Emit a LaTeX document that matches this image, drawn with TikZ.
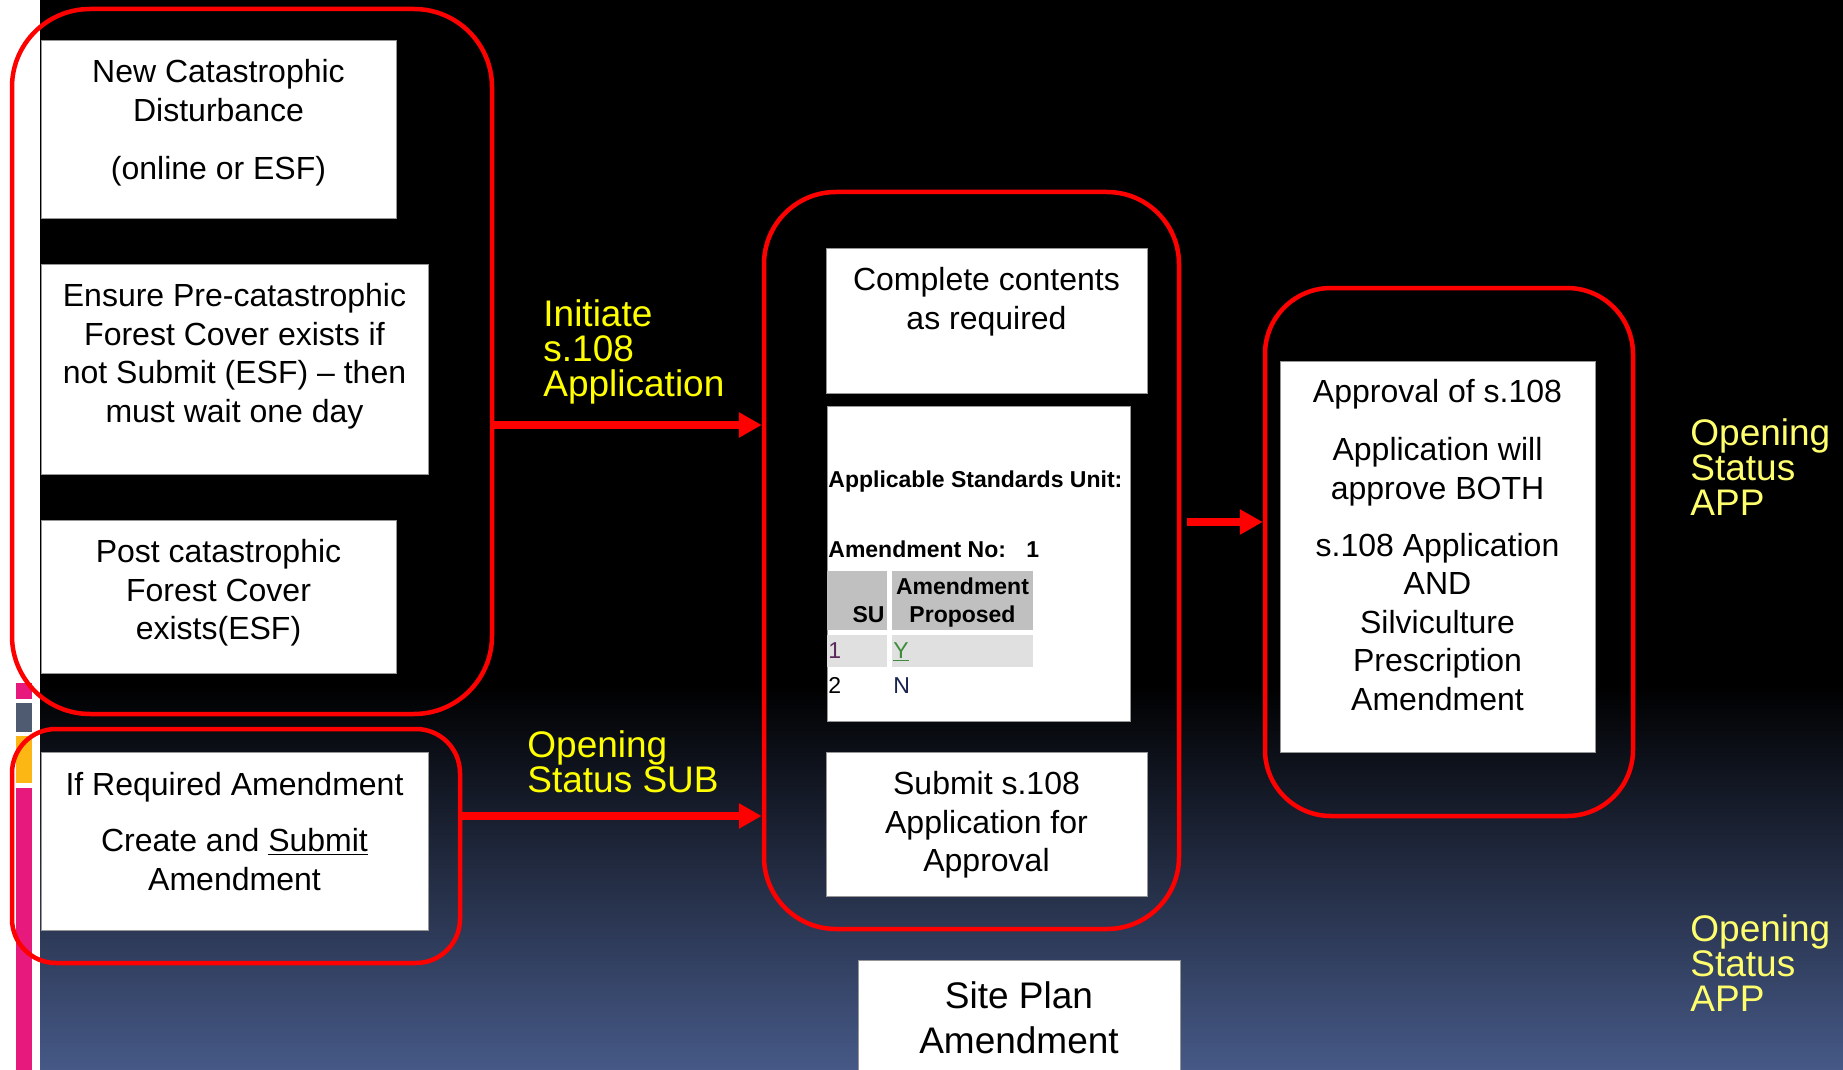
\documentclass[tikz,border=0pt]{standalone}
\usepackage{fontspec}
\setmainfont{Liberation Sans}
\usetikzlibrary{arrows.meta,fit}
\definecolor{bgblue}{RGB}{70,89,135}
\definecolor{lyellow}{RGB}{255,255,0}
\definecolor{ryellow}{RGB}{255,255,110}
\definecolor{stripink}{RGB}{232,25,125}
\definecolor{stripgray}{RGB}{78,91,112}
\definecolor{stripgold}{RGB}{253,183,20}
\definecolor{cellhead}{RGB}{192,192,192}
\definecolor{cellrow}{RGB}{224,224,224}
\definecolor{purpone}{RGB}{90,40,90}
\definecolor{greenone}{RGB}{60,140,60}
\definecolor{navyone}{RGB}{25,35,80}
\definecolor{boxedge}{RGB}{150,150,150}
\begin{document}
\begin{tikzpicture}[x=0.5pt,y=-0.5pt,
  grp/.style={draw=red, line width=2.25pt, inner sep=0pt, rounded corners=#1},
  wbox/.style={draw=boxedge, line width=0.4pt, fill=white, inner sep=0pt},
  cell/.style={inner sep=0pt, fill=#1},
  btext/.style={font=\fontsize{16}{19.25}\selectfont, align=center, inner sep=0pt, anchor=north, text=black},
  bigtext/.style={font=\fontsize{18.5}{22.5}\selectfont, align=center, inner sep=0pt, anchor=north, text=black},
  ylab/.style={font=\fontsize{18.5}{17.5}\selectfont, align=left, inner sep=0pt, anchor=north west, text=#1},
  tabb/.style={font=\fontsize{11.5}{13}\selectfont\bfseries, inner sep=0pt, text=black},
  tabr/.style={font=\fontsize{11.5}{13}\selectfont, inner sep=0pt, text=black},
  arr/.style={draw=red, line width=4pt, -{Triangle[length=11.5pt,width=12pt]}}
]
\useasboundingbox (0,0) rectangle (1843,1070);
% background
\fill[white] (0,0) rectangle (1843,1070);
\fill[black] (40,0) rectangle (1843,687);
\shade[top color=black, bottom color=bgblue] (40,685) rectangle (1843,1070);
% left strip bars
\fill[stripink] (16,683) rectangle (32,699);
\fill[stripgray] (16,703) rectangle (32,732);
\fill[stripgold] (16,736) rectangle (32,783);
\fill[stripink] (16,788) rectangle (32,1070);

% white boxes
\node[wbox, fit={(41,40) (396,218)}] (b1) {};
\node[wbox, fit={(41,264) (428,474)}] (b2) {};
\node[wbox, fit={(41,520) (396,673)}] (b3) {};
\node[wbox, fit={(41,752) (428,930)}] (b4) {};
\node[wbox, fit={(826,248) (1147,393)}] (b5) {};
\node[wbox, fit={(827,406) (1130,721)}] (b6) {};
\node[wbox, fit={(826,752) (1147,896)}] (b7) {};
\node[wbox, fit={(1280,361) (1595,752)}] (b8) {};
\node[wbox, fit={(858,960) (1180,1072)}] (b9) {};

% group outlines
\node[grp=39pt, fit={(12,9) (492,714)}] (g1) {};
\node[grp=22pt, fit={(12,729) (460,963)}] (g2) {};
\node[grp=36pt, fit={(764,192) (1179,929)}] (g3) {};
\node[grp=33pt, fit={(1265,288) (1633,816)}] (g4) {};

% arrows
\coordinate (a1) at (0,425);
\coordinate (a2) at (0,816);
\coordinate (a3) at (0,522);
\draw[arr] (g1.east |- a1) -- (g3.west |- a1);
\draw[arr] (g2.east |- a2) -- (g3.west |- a2);
\draw[arr, shorten <=3pt] (g3.east |- a3) -- (g4.west |- a3);

% box texts
\node[btext] (t1) at (218.5,59) {New Catastrophic\\Disturbance\\[9.75pt](online or ESF)};
\node[btext] (t2) at (234.5,283) {Ensure Pre-catastrophic\\Forest Cover exists if\\not Submit (ESF) – then\\must wait one day};
\node[btext] (t3) at (218.5,539) {Post catastrophic\\Forest Cover\\exists(ESF)};
\node[btext] (t4) at (234.5,772) {If Required Amendment\\[8.75pt]Create and \underline{Submit}\\Amendment};
\node[btext] (t5) at (986.5,267) {Complete contents\\as required};
\node[btext] (t7) at (986.5,771) {Submit s.108\\Application for\\Approval};
\node[btext] (t8) at (1437.5,379) {Approval of s.108\\[9.75pt]Application will\\approve BOTH\\[9.25pt]s.108 Application\\AND\\Silviculture\\Prescription\\Amendment};
\node[bigtext] (t9) at (1019,981) {Site Plan\\Amendment};

% yellow labels
\node[ylab=lyellow] (y1) at (543,299) {Initiate\\s.108\\Application};
\node[ylab=lyellow] (y2) at (527,730) {Opening\\Status SUB};
\node[ylab=ryellow] (y3) at (1690,418) {Opening\\Status\\APP};
\node[ylab=ryellow] (y4) at (1690,914) {Opening\\Status\\APP};

% table screenshot content
\node[tabb, anchor=base west] (ta) at (828,487) {Applicable Standards Unit:};
\node[tabb, anchor=base west] (tb) at (828,557) {Amendment No:};
\node[tabb, anchor=base west] (tc) at (1026,557) {1};
\node[cell=cellhead, fit={(827,571) (887,630)}] (ch1) {};
\node[cell=cellhead, fit={(892,571) (1033,630)}] (ch2) {};
\node[cell=cellrow, fit={(827,635) (887,667)}] (cr1) {};
\node[cell=cellrow, fit={(892,635) (1033,667)}] (cr2) {};
\node[tabb, anchor=base east] (su) at (885,622) {SU};
\node[tabb, anchor=base] (am) at (962.5,594) {Amendment};
\node[tabb, anchor=base] (pr) at (962.5,622) {Proposed};
\node[tabr, anchor=base west, text=purpone] (r1) at (828,658) {1};
\node[tabr, anchor=base west, text=greenone] (ry) at (893,658) {\underline{Y}};
\node[tabr, anchor=base west] (r2) at (828,693) {2};
\node[tabr, anchor=base west, text=navyone] (rn) at (893,693) {N};
\end{tikzpicture}
\end{document}
